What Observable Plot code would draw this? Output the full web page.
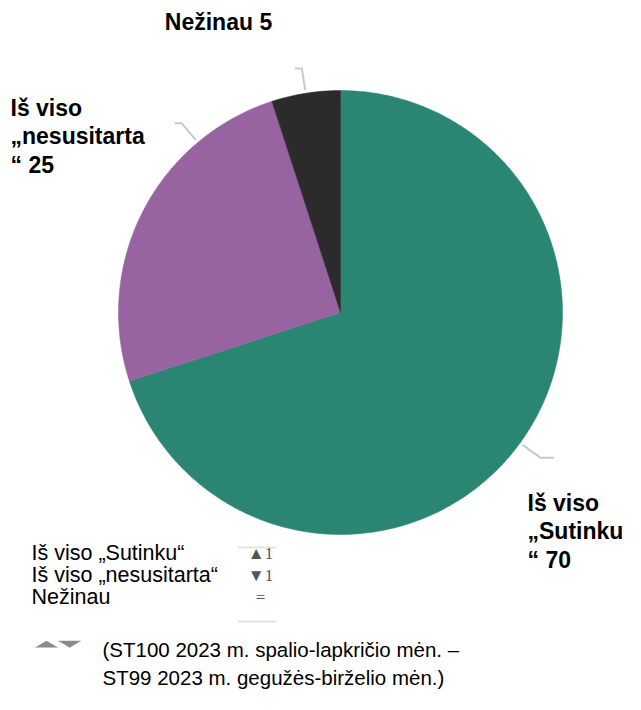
<!DOCTYPE html>
<html><head><meta charset="utf-8">
<script src="https://cdn.jsdelivr.net/npm/d3@7"></script>
<script src="https://cdn.jsdelivr.net/npm/@observablehq/plot@0.6"></script>
<style>body{margin:0;background:#fff;}</style>
</head><body><div id="chart"></div>
<script>
// ---- data ----
const categories = ["Iš viso „Sutinku“", "Iš viso „nesusitarta“", "Nežinau"];
const values = [70, 25, 5];
const changes = ["▲1", "▼1", "="];
const captionLines = ["(ST100 2023 m. spalio-lapkričio mėn. –", "ST99 2023 m. gegužės-birželio mėn.)"];
const sliceLabels = [`Iš viso\n„Sutinku\n“ ${values[0]}`, `Iš viso\n„nesusitarta\n“ ${values[1]}`, `Nežinau ${values[2]}`];
const colors = ["#2a8672", "#9763a1", "#2b2b2b"];

// ---- layout ----
const W = 641, H = 710, cx = 340, cy = 312, R = 222;
const arcs = d3.pie().sort(null)(values);
const wedges = [];
arcs.forEach((a, i) => {
  wedges.push({cat: categories[i], x: cx, y: cy});
  const n = Math.max(2, Math.ceil((a.endAngle - a.startAngle) / 0.01));
  for (let k = 0; k <= n; k++) {
    const t = a.startAngle + (a.endAngle - a.startAngle) * k / n;
    wedges.push({cat: categories[i], x: cx + R * Math.sin(t), y: cy - R * Math.cos(t)});
  }
  wedges.push({cat: categories[i], x: cx, y: cy});
});
const leaderShift = [0, 23 * Math.PI / 180, 0];
const leaders = [];
arcs.forEach((a, i) => {
  const t = (a.startAngle + a.endAngle) / 2 + leaderShift[i];
  const s = Math.sin(t), c = Math.cos(t);
  const p1 = {x: cx + (R + 25) * s, y: cy - (R + 25) * c};
  leaders.push({k: i, x: cx + (R + 4) * s, y: cy - (R + 4) * c});
  leaders.push({k: i, ...p1});
  leaders.push({k: i, x: p1.x + (s > 0 ? 13 : -6), y: p1.y});
});
const labelPos = [{x: 527, y: 530, a: "start"}, {x: 10, y: 135, a: "start"}, {x: 218, y: 21, a: "middle"}];
const labels = sliceLabels.map((l, i) => ({label: l, ...labelPos[i]}));
const legend = categories.map((c, i) => ({cat: c, chg: changes[i], y: 553 + i * 22}));
const caption = captionLines.map((t, i) => ({t, y: 650 + i * 28}));
const tri = [
  {k: 0, x: 35, y: 647}, {k: 0, x: 46, y: 640.5}, {k: 0, x: 57, y: 647},
  {k: 1, x: 58, y: 640.5}, {k: 1, x: 80, y: 640.5}, {k: 1, x: 69, y: 647}
];

const chart = Plot.plot({
  width: W, height: H, margin: 0,
  x: {domain: [0, W], range: [0, W], axis: null},
  y: {domain: [0, H], range: [0, H], axis: null},
  color: {domain: categories, range: colors},
  style: {fontFamily: "Liberation Sans, Arial, sans-serif", background: "#fff"},
  marks: [
    Plot.line(wedges, {x: "x", y: "y", z: "cat", fill: "cat", stroke: "cat", strokeWidth: 0.5, curve: "linear"}),
    Plot.line(leaders, {x: "x", y: "y", z: "k", stroke: "#c9c9c9", strokeWidth: 2}),
    ...labels.map(d => Plot.text([d], {x: "x", y: "y", text: "label", textAnchor: d.a, lineAnchor: "middle",
      fontSize: 23, fontWeight: "bold", lineHeight: 1.22, fill: "#000"})),
    Plot.text(legend, {x: () => 31, y: "y", text: "cat", textAnchor: "start", fontSize: 21.5, fill: "#000"}),
    Plot.ruleY([547, 621], {x1: 238, x2: 276, stroke: "#e3e3e3", strokeWidth: 2}),
    Plot.text(legend, {x: () => 260, y: "y", text: "chg", textAnchor: "middle", fontSize: 17, fill: "#555",
      fontFamily: "Liberation Serif, serif"}),
    Plot.line(tri, {x: "x", y: "y", z: "k", fill: "#8a8a8a", stroke: "#8a8a8a", strokeWidth: 0.5}),
    Plot.text(caption, {x: () => 102, y: "y", text: "t", textAnchor: "start", fontSize: 20.5, fill: "#000"})
  ]
});
document.getElementById("chart").append(chart);
</script>
</body></html>
